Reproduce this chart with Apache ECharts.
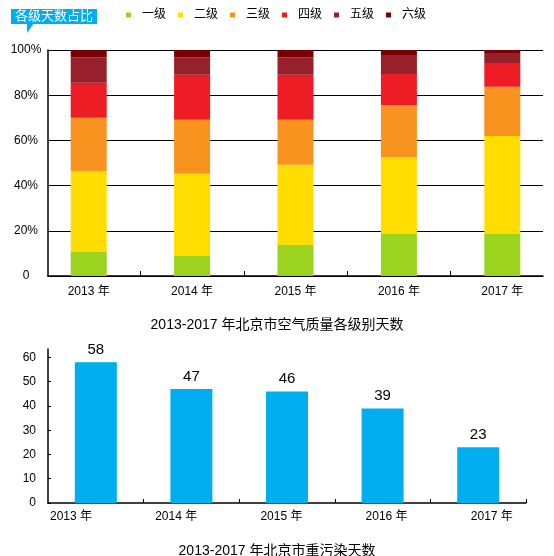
<!DOCTYPE html>
<html>
<head>
<meta charset="utf-8">
<script src="https://cdn.jsdelivr.net/npm/echarts@6/dist/echarts.min.js"></script>
<style>html,body{margin:0;padding:0;background:#fff;}#c{width:554px;height:556px;}</style>
</head>
<body>
<div id="c"></div>
<script>
const years = ['2013 年', '2014 年', '2015 年', '2016 年', '2017 年'];
const levelNames = ['一级', '二级', '三级', '四级', '五级', '六级'];
const level1 = [10.6, 8.9, 13.7, 18.6, 18.6];
const level2 = [35.9, 36.3, 35.5, 34.1, 43.4];
const level3 = [23.5, 23.9, 19.9, 23.0, 21.7];
const level4 = [15.5, 19.9, 19.9, 13.7, 10.6];
const level5 = [11.2, 7.7, 7.7, 8.4, 4.4];
const level6 = [3.3, 3.3, 3.3, 2.2, 1.3];
const heavyDays = [58, 47, 46, 39, 23];
const pctTicks = [0, 20, 40, 60, 80, 100];

const levelColors = ['#9BD31E', '#FFDD00', '#F7931E', '#EE1C25', '#96202B', '#780000'];
const levelData = [level1, level2, level3, level4, level5, level6];
const FONT = 'Liberation Sans, Noto Sans CJK SC, sans-serif';

const chart = echarts.init(document.getElementById('c'), null, {renderer: 'canvas'});
const option = {
  backgroundColor: '#fff',
  animation: false,
  textStyle: {fontFamily: FONT, color: '#000'},
  title: [
    {text: '各级天数占比', left: 11, top: 9, backgroundColor: '#00AEEF', padding: [1, 4],
     textStyle: {color: '#fff', fontSize: 13, fontWeight: 'normal', fontFamily: FONT}},
    {text: '2013-2017 年北京市空气质量各级别天数', left: 'center', top: 313,
     textStyle: {color: '#000', fontSize: 14, fontWeight: 'normal', fontFamily: FONT}},
    {text: '2013-2017 年北京市重污染天数', left: 'center', top: 539,
     textStyle: {color: '#000', fontSize: 14, fontWeight: 'normal', fontFamily: FONT}}
  ],
  graphic: [
    {type: 'polygon', shape: {points: [[27, 23], [34, 23], [27, 33]]}, style: {fill: '#00AEEF'}}
  ],
  legend: {
    left: 126, top: 9, padding: 0, itemWidth: 5, itemHeight: 5, itemGap: 12, icon: 'rect',
    data: levelNames,
    textStyle: {fontSize: 12, color: '#000', padding: [0, 0, 0, 6], fontFamily: FONT}
  },
  grid: [
    {left: 48, right: 11, top: 50, height: 226},
    {left: 37, right: -2, top: 50, height: 226},
    {left: 48, right: 28, top: 349, height: 154},
    {left: 18.4, right: 9.6, top: 349, height: 154}
  ],
  xAxis: [
    {gridIndex: 0, type: 'category', data: years,
     axisLine: {lineStyle: {color: '#000', width: 1.5}}, axisTick: {show: false}, axisLabel: {show: false}},
    {gridIndex: 1, type: 'category', data: years,
     axisLine: {show: false},
     axisTick: {show: true, inside: true, length: 5, lineStyle: {color: '#000'}, interval: function (i) { return i !== 0; }},
     axisLabel: {fontSize: 12, color: '#000', margin: 10}},
    {gridIndex: 2, type: 'category', data: years,
     axisLine: {lineStyle: {color: '#000', width: 1.5}},
     axisTick: {show: true, inside: true, length: 4, lineStyle: {color: '#000'}, interval: function (i) { return i !== 0; }},
     axisLabel: {show: false}},
    {gridIndex: 3, type: 'category', data: years,
     axisLine: {show: false}, axisTick: {show: false},
     axisLabel: {fontSize: 12, color: '#000', margin: 8}}
  ],
  yAxis: [
    {gridIndex: 0, type: 'value', min: 0, max: 100, interval: 20,
     axisLine: {show: true, lineStyle: {color: '#000', width: 1.5}}, axisTick: {show: false},
     splitLine: {show: true, lineStyle: {color: '#000', width: 1}},
     axisLabel: {fontSize: 12, color: '#000', align: 'center', margin: 22,
       formatter: function (v) { return pctTicks.indexOf(v) < 0 ? '' : (v === 0 ? '0' : v + '%'); }}},
    {gridIndex: 1, type: 'value', min: 0, max: 100, show: false},
    {gridIndex: 2, type: 'value', min: 0, max: 63.5, interval: 10,
     axisLine: {show: true, lineStyle: {color: '#000', width: 1.5}},
     axisTick: {show: true, inside: true, length: 3, lineStyle: {color: '#000'}},
     splitLine: {show: false},
     axisLabel: {fontSize: 12, color: '#000', margin: 12, showMaxLabel: false}},
    {gridIndex: 3, type: 'value', min: 0, max: 63.5, show: false}
  ],
  series: levelNames.map(function (name, i) {
    return {
      name: name, type: 'bar', stack: 'pct', xAxisIndex: 1, yAxisIndex: 1,
      barWidth: 36, data: levelData[i], itemStyle: {color: levelColors[i]}
    };
  }).concat([{
    name: '重污染天数', type: 'bar', xAxisIndex: 2, yAxisIndex: 2, barWidth: 42,
    data: heavyDays, itemStyle: {color: '#00AEEF'},
    label: {show: true, position: 'top', distance: 5, fontSize: 15, color: '#000', fontFamily: FONT}
  }])
};
chart.setOption(option);
</script>
</body>
</html>
